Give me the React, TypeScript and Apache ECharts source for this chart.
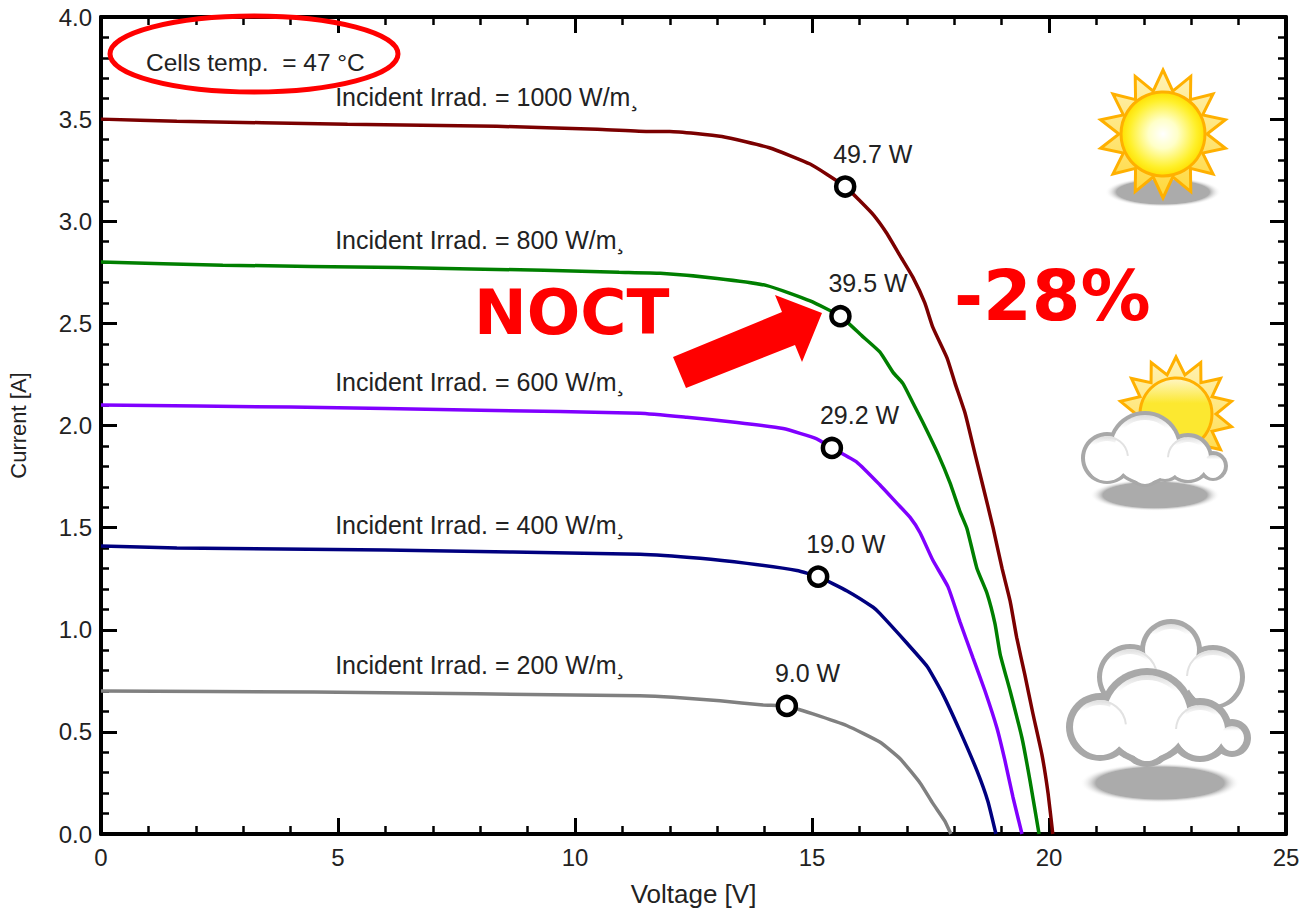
import React, { useEffect, useRef } from "react";
import * as echarts from "echarts";

const FONT = "'Liberation Sans', Arial, sans-serif";
const HEAVY = "'DejaVu Sans', sans-serif";

const xTicks = { min: 0, max: 25, interval: 5 };
const yTicks = { min: 0, max: 4, interval: 0.5 };

const curve1000 = [[0,3.5],[1.6,3.49],[5.2,3.475],[8.35,3.465],[10.47,3.45],[11.5,3.44],[12,3.44],[13.1,3.415],[14.1,3.36],[14.96,3.28],[15.7,3.17],[16.01,3.1],[16.3,3.03],[16.58,2.94],[16.86,2.83],[17.13,2.725],[17.38,2.6],[17.55,2.48],[17.85,2.33],[18.02,2.205],[18.23,2.06],[18.44,1.86],[18.61,1.7],[18.82,1.5],[19.01,1.3],[19.18,1.14],[19.32,0.96],[19.49,0.78],[19.66,0.59],[19.85,0.39],[19.98,0.2],[20.08,0]];
const curve800 = [[0,2.8],[2.57,2.785],[6.27,2.773],[9.35,2.76],[10.93,2.75],[11.8,2.745],[13,2.72],[14.05,2.685],[14.96,2.61],[15.6,2.535],[16.05,2.44],[16.43,2.36],[16.71,2.26],[16.92,2.205],[17.13,2.11],[17.34,2.015],[17.66,1.86],[17.91,1.72],[18.12,1.58],[18.27,1.495],[18.48,1.3],[18.69,1.18],[18.86,1.03],[18.97,0.88],[19.18,0.7],[19.43,0.47],[19.6,0.26],[19.79,0]];
const curve600 = [[0,2.1],[4,2.09],[8,2.075],[11.37,2.06],[12.36,2.04],[13.42,2.015],[14.39,1.985],[15.1,1.935],[15.42,1.89],[15.95,1.82],[16.43,1.71],[16.79,1.62],[17.07,1.55],[17.28,1.475],[17.55,1.34],[17.87,1.21],[18.12,1.04],[18.4,0.86],[18.65,0.7],[18.9,0.52],[19.07,0.36],[19.24,0.18],[19.43,0]];
const curve400 = [[0,1.41],[1.6,1.4],[6,1.39],[11.37,1.37],[12.64,1.35],[13.63,1.325],[14.68,1.29],[15.13,1.26],[15.74,1.19],[16.29,1.11],[16.43,1.08],[17,0.935],[17.43,0.82],[17.76,0.685],[18.12,0.505],[18.48,0.31],[18.71,0.16],[18.88,0]];
const curve200 = [[0,0.7],[4.5,0.695],[11.37,0.677],[12.07,0.67],[13.06,0.652],[13.97,0.632],[14.47,0.627],[15.02,0.588],[15.74,0.53],[16.43,0.45],[16.86,0.368],[17.28,0.25],[17.55,0.15],[17.8,0.064],[17.93,0]];

const irradiance = ["1000", "800", "600", "400", "200"];
const colors = ["#7B0000", "#007F00", "#8000FF", "#00007F", "#808080"];
const curves = [curve1000, curve800, curve600, curve400, curve200];
const mpp = [[15.7,3.17],[15.6,2.535],[15.42,1.89],[15.13,1.26],[14.47,0.627]];
const mppLabels = ["49.7 W", "39.5 W", "29.2 W", "19.0 W", "9.0 W"];
const labelAnchors = [[4.94,3.61],[4.94,2.91],[4.94,2.215],[4.94,1.515],[4.94,0.825]];

const GRAY = "#A8A8A8";
const star = (cx: number, cy: number, rO: number, rI: number, n: number) => {
  const pts: number[][] = [];
  for (let i = 0; i < n * 2; i++) {
    const a = -Math.PI / 2 + (i * Math.PI) / n;
    const r = i % 2 ? rI : rO;
    pts.push([cx + r * Math.cos(a), cy + r * Math.sin(a)]);
  }
  return pts;
};
const shadow = (cx: number, cy: number, rx: number, ry: number) => ({
  type: "ellipse", shape: { cx, cy, rx, ry },
  style: { fill: new echarts.graphic.RadialGradient(0.5, 0.5, 0.5, [
    { offset: 0, color: "#ABABAB" }, { offset: 0.8, color: "#ABABAB" }, { offset: 1, color: "rgba(255,255,255,0)" },
  ]) },
});
const cloud = (bumps: number[][], w: number) => [
  ...bumps.map(([cx, cy, r]) => ({ type: "circle", shape: { cx, cy, r }, style: { fill: GRAY } })),
  ...bumps.map(([cx, cy, r]) => ({
    type: "circle", shape: { cx, cy, r: r - w },
    style: { fill: new echarts.graphic.LinearGradient(0, 0, 0, 1, [
      { offset: 0, color: "#DDDDDD" }, { offset: 0.2, color: "#FFFFFF" }, { offset: 1, color: "#FFFFFF" },
    ]) },
  })),
  ...bumps.map(([cx, cy, r]) => ({
    type: "circle", shape: { cx, cy: cy + 3, r: Math.max(r - w - 2, 1) }, style: { fill: "#FFFFFF" },
  })),
  ...bumps.slice(1, 3).map(([cx, cy, r], i) => ({
    type: "arc",
    shape: { cx, cy, r: r - w - 1, startAngle: i ? -3.1 : -1.7, endAngle: i ? -1.7 : -0.1, clockwise: true },
    style: { stroke: "#E2E2E2", lineWidth: 2, fill: "none" },
  })),
];
const sun = (cx: number, cy: number, rO: number, rI: number, r: number, fill: any) => [
  {
    type: "polygon", shape: { points: star(cx, cy, rO, rI, 14) },
    style: { fill: new echarts.graphic.LinearGradient(0, 0, 0, 1, [
      { offset: 0, color: "#FFF3B8" }, { offset: 1, color: "#FFD83A" },
    ]), stroke: "#FFB000", lineWidth: 3, lineJoin: "miter" },
  },
  { type: "circle", shape: { cx, cy, r }, style: { fill, stroke: "#FFB000", lineWidth: 3 } },
];

const graphics: any[] = [
  { type: "ellipse", shape: { cx: 254, cy: 54, rx: 144, ry: 38 }, style: { fill: "transparent", stroke: "#FF0000", lineWidth: 5 } },
  { type: "text", x: 146, y: 62, style: { text: "Cells temp.  = 47 °C", font: `24.5px ${FONT}`, fill: "#222", textVerticalAlign: "middle" } },
  { type: "text", x: 474, y: 312, style: { text: "NOCT", font: `bold 63px ${HEAVY}`, fill: "#FF0000", textVerticalAlign: "middle" } },
  { type: "text", x: 954, y: 296, style: { text: "-28%", font: `bold 70px ${HEAVY}`, fill: "#FF0000", textVerticalAlign: "middle" } },
  { type: "polygon", shape: { points: [[673,357],[686,388],[795,345],[802,362],[822,313],[775,295],[782,312]] }, style: { fill: "#FF0000" } },
  shadow(1163, 192, 58, 15),
  ...sun(1163, 134, 64, 44, 42, new echarts.graphic.RadialGradient(0.5, 0.5, 0.5, [
    { offset: 0, color: "#FFFFFF" }, { offset: 0.35, color: "#FFFFC8" }, { offset: 0.8, color: "#FFF02A" }, { offset: 1, color: "#FFE000" },
  ])),
  ...sun(1176, 414, 57, 40, 36, new echarts.graphic.LinearGradient(0, 0, 0, 1, [
    { offset: 0, color: "#FFF6C8" }, { offset: 0.35, color: "#FCE830" }, { offset: 1, color: "#FCE830" },
  ])),
  shadow(1155, 495, 65, 16),
  ...cloud([[1145,448,37],[1107,458,26],[1188,458,25],[1213,466,15],[1145,468,19],[1165,462,20]], 4),
  shadow(1160, 783, 80, 20),
  ...cloud([[1171,650,31],[1130,677,33],[1213,677,32],[1171,672,30]], 5),
  ...cloud([[1147,716,48],[1100,727,34],[1200,730,32],[1232,738,19],[1147,740,27]], 7),
];

const makeOption = () => ({
  animation: false,
  backgroundColor: "#FFFFFF",
  textStyle: { fontFamily: FONT },
  grid: { left: 101, right: 16, top: 17, bottom: 76, containLabel: false, outerBoundsMode: "none" },
  xAxis: [0, 1].map((i) => ({
    type: "value", position: i ? "top" : "bottom", ...xTicks,
    name: i ? "" : "Voltage [V]", nameLocation: "middle", nameGap: 47,
    nameTextStyle: { fontFamily: FONT, fontSize: 26, color: "#222" },
    axisLine: { show: true, onZero: false, lineStyle: { color: "#000", width: 4 } },
    axisTick: { show: true, inside: true, length: 16, lineStyle: { color: "#000", width: 3 } },
    minorTick: { show: true, splitNumber: 5, length: 8, lineStyle: { color: "#000", width: 2.5 } },
    axisLabel: { show: !i, margin: 11, fontFamily: FONT, fontSize: 24, color: "#222" },
    splitLine: { show: false },
  })),
  yAxis: [0, 1].map((i) => ({
    type: "value", position: i ? "right" : "left", ...yTicks,
    name: i ? "" : "Current [A]", nameLocation: "middle", nameGap: 72,
    nameTextStyle: { fontFamily: FONT, fontSize: 22, color: "#222" },
    axisLine: { show: true, onZero: false, lineStyle: { color: "#000", width: 4 } },
    axisTick: { show: true, inside: true, length: 16, lineStyle: { color: "#000", width: 3 } },
    minorTick: { show: true, splitNumber: 5, length: 8, lineStyle: { color: "#000", width: 2.5 } },
    axisLabel: { show: !i, margin: 9, fontFamily: FONT, fontSize: 24, color: "#222", formatter: (v: number) => v.toFixed(1) },
    splitLine: { show: false },
  })),
  series: [
    ...curves.map((data, i) => ({
      type: "line", name: irradiance[i], data, showSymbol: false, smooth: 0.15,
      lineStyle: { color: colors[i], width: 3.5 }, z: 2,
    })),
    ...mpp.map((pt, i) => ({
      type: "scatter", data: [pt], symbol: "circle", symbolSize: 18,
      itemStyle: { color: "#FFFFFF", borderColor: "#000", borderWidth: 4.5, opacity: 1 }, z: 3,
      label: {
        show: true, position: "inside", formatter: mppLabels[i], offset: [-12, -33],
        align: "left", verticalAlign: "middle", fontFamily: FONT, fontSize: 25, color: "#222", opacity: 1,
      },
    })),
    {
      type: "scatter", symbolSize: 0, z: 3, silent: true,
      itemStyle: { opacity: 1 },
      data: labelAnchors.map((p, i) => ({ value: p, name: irradiance[i] })),
      label: {
        show: true, position: "right", distance: 0, opacity: 1,
        formatter: (p: any) => `Incident Irrad. = ${p.name} W/m¸`,
        fontFamily: FONT, fontSize: 25, color: "#222",
      },
    },
  ],
  graphic: { elements: graphics.map((g) => ({ ...g, z: 10 })) },
});

export default function App() {
  const ref = useRef<HTMLDivElement>(null);
  useEffect(() => {
    const chart = echarts.init(ref.current!, undefined, { renderer: "svg" });
    chart.setOption(makeOption() as any);
    return () => chart.dispose();
  }, []);
  return <div ref={ref} style={{ position: "fixed", left: 0, top: 0, width: 1302, height: 910 }} />;
}
